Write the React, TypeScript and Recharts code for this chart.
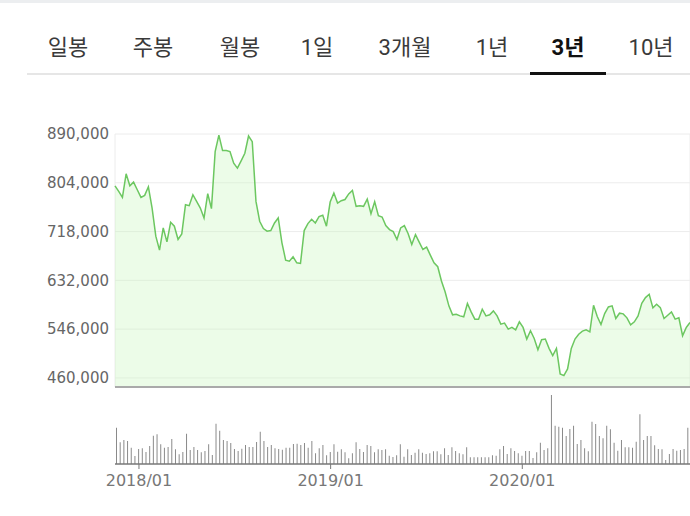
import React from "react";
import {
  ComposedChart,
  Area,
  BarChart,
  Bar,
  XAxis,
  YAxis,
  CartesianGrid,
} from "recharts";

// 주간 종가 (3년)
const closes = [
  798700, 788800, 778300, 819800, 798700, 805200, 791700, 778300, 781800, 797000,
  759500, 709800, 685200, 724400, 699900, 734400, 727400, 704000, 713900, 765400,
  763600, 782900, 771300, 759500, 742000, 784700, 758400, 859000, 888000, 860700,
  860700, 859000, 838500, 829800, 842600, 856100, 886500, 876500, 771200, 736200,
  723300, 718600, 719800, 733200, 742000, 698100, 667700, 665900, 673600, 663000,
  661900, 719800, 732000, 739700, 733200, 744300, 746700, 727400, 770100, 785900,
  768300, 772400, 774500, 784400, 790500, 762500, 763600, 762500, 775300, 749600,
  770700, 746100, 743700, 728500, 721500, 718000, 704000, 724400, 728500, 714500,
  695200, 712700, 699300, 686400, 690500, 676500, 663000, 656000, 630800, 611500,
  587000, 571200, 572300, 569400, 567700, 591300, 576400, 563600, 563600, 581100,
  569400, 571200, 578200, 569400, 554800, 556600, 546000, 549000, 544800, 558900,
  549000, 528500, 543100, 529600, 509700, 527300, 528500, 512100, 499200, 512100,
  467000, 464100, 475800, 512100, 528500, 537000, 542500, 544800, 541300, 588100,
  568300, 554200, 573500, 585200, 587000, 564700, 574100, 572900, 565900, 553600,
  558900, 569400, 591700, 601600, 607400, 583500, 589900, 584000, 564700, 570600,
  576400, 563600, 565900, 534300, 549000, 557700,
];

// 주간 거래량 (상대값)
const volumes = [
  363, 217, 240, 230, 163, 80, 150, 157, 120, 180,
  283, 297, 197, 163, 170, 250, 147, 97, 120, 303,
  140, 170, 140, 117, 130, 197, 90, 403, 333, 240,
  230, 210, 150, 130, 153, 190, 170, 170, 220, 323,
  230, 170, 190, 157, 150, 143, 163, 163, 200, 203,
  190, 210, 163, 230, 107, 157, 190, 87, 120, 197,
  123, 147, 117, 57, 107, 217, 150, 120, 190, 180,
  117, 147, 140, 147, 83, 70, 87, 197, 73, 147,
  90, 113, 147, 113, 100, 107, 127, 127, 97, 157,
  90, 167, 130, 107, 97, 167, 67, 67, 67, 67,
  67, 67, 87, 83, 147, 180, 100, 157, 130, 107,
  83, 130, 130, 60, 117, 213, 140, 157, 690, 383,
  373, 363, 280, 350, 383, 200, 240, 157, 127, 423,
  400, 280, 257, 383, 347, 213, 133, 240, 167, 167,
  163, 223, 497, 240, 280, 280, 187, 150, 147, 40,
  100, 150, 133, 140, 150, 363,
];

const yTicks = [460000, 546000, 632000, 718000, 804000, 890000];
const yearTickIndex = [6, 58, 110];
const yearTickLabels = ["2018/01", "2019/01", "2020/01"];

const tabs = ["일봉", "주봉", "월봉", "1일", "3개월", "1년", "3년", "10년"];
const activeTab = "3년";

const data = closes.map((c, i) => ({ i, close: c, vol: volumes[i] }));

const yearLabel = (v: number) => {
  const k = yearTickIndex.indexOf(v);
  return k >= 0 ? yearTickLabels[k] : "";
};

const tabCenters = [68, 153, 240, 317, 405, 492, 568, 651];

export default function App() {
  return (
    <div
      style={{
        position: "absolute",
        left: 0,
        top: 0,
        width: 690,
        height: 516,
        overflow: "hidden",
        background: "#fff",
      }}
    >
      {/* 상단 회색 띠 */}
      <div
        style={{
          position: "absolute",
          left: 0,
          top: 0,
          width: 690,
          height: 3,
          background: "#eceef0",
        }}
      />

      {/* 탭 */}
      {tabs.map((t, k) => (
        <span
          key={t}
          style={{
            position: "absolute",
            left: tabCenters[k],
            top: 34,
            transform: "translateX(-50%)",
            fontFamily: "Roboto, 'Noto Sans CJK KR', sans-serif",
            fontSize: 22,
            lineHeight: "28px",
            whiteSpace: "nowrap",
            color: t === activeTab ? "#111" : "#3a3a3a",
            fontWeight: t === activeTab ? 700 : 400,
          }}
        >
          {t}
        </span>
      ))}
      <div
        style={{
          position: "absolute",
          left: 27,
          top: 73,
          width: 663,
          height: 2,
          background: "#e6e6e6",
        }}
      />
      <div
        style={{
          position: "absolute",
          left: 530,
          top: 72,
          width: 76,
          height: 3,
          background: "#111",
        }}
      />

      {/* 가격 차트 */}
      <div style={{ position: "absolute", left: 0, top: 110 }}>
        <ComposedChart
          width={690}
          height={280}
          data={data}
          margin={{ top: 24, right: 0, bottom: 2, left: 0 }}
        >
          <CartesianGrid stroke="#ececec" strokeWidth={1} />
          <XAxis
            dataKey="i"
            ticks={yearTickIndex}
            interval={0}
            tick={false}
            tickLine={false}
            height={1}
            axisLine={{ stroke: "#aaaaaa", strokeWidth: 2 }}
          />
          <YAxis
            width={115}
            domain={[444000, 890000]}
            ticks={yTicks}
            interval={0}
            axisLine={false}
            tickLine={false}
            tickSize={0}
            tickMargin={6}
            tickFormatter={(v) => v.toLocaleString("en-US")}
            tick={{ fontSize: 15, fill: "#666", fontFamily: "'DejaVu Sans'" }}
          />
          <Area
            type="linear"
            dataKey="close"
            stroke="#6cc760"
            strokeWidth={1.5}
            fill="#c8f5bd"
            fillOpacity={0.35}
            dot={false}
            activeDot={false}
            isAnimationActive={false}
          />
        </ComposedChart>
      </div>

      {/* 거래량 차트 */}
      <div style={{ position: "absolute", left: 0, top: 388 }}>
        <BarChart
          width={690}
          height={128}
          data={data}
          margin={{ top: 6, right: 0, bottom: 22, left: 115 }}
        >
          <XAxis
            dataKey="i"
            ticks={yearTickIndex}
            interval={0}
            tickFormatter={yearLabel}
            tickSize={5}
            tickMargin={6}
            height={30}
            axisLine={{ stroke: "#777", strokeWidth: 1.5 }}
            tickLine={{ stroke: "#777" }}
            tick={{ fontSize: 16, fill: "#777", fontFamily: "'DejaVu Sans'" }}
          />
          <YAxis hide domain={[0, 700]} />
          <Bar
            dataKey="vol"
            fill="#8a8a8a"
            barSize={1}
            isAnimationActive={false}
          />
        </BarChart>
      </div>
    </div>
  );
}
